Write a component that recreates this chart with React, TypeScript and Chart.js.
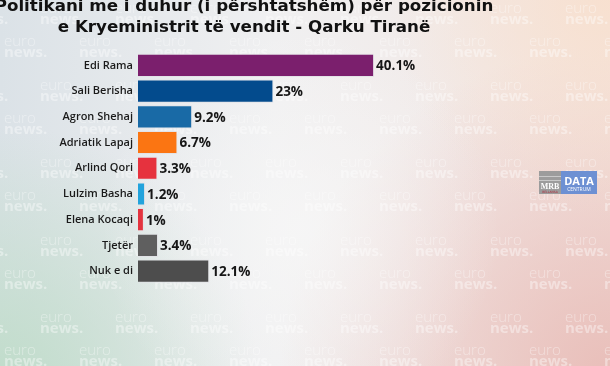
import React, { useEffect, useRef } from "react";
import { Chart, registerables } from "chart.js";

Chart.register(...registerables);

const categories = [
  "Edi Rama",
  "Sali Berisha",
  "Agron Shehaj",
  "Adriatik Lapaj",
  "Arlind Qori",
  "Lulzim Basha",
  "Elena Kocaqi",
  "Tjetër",
  "Nuk e di",
];
const values = [40.1, 23, 9.2, 6.7, 3.3, 1.2, 1, 3.4, 12.1];
const valueLabels = ["40.1%", "23%", "9.2%", "6.7%", "3.3%", "1.2%", "1%", "3.4%", "12.1%"];
const titleLines = [
  "Politikani me i duhur (i përshtatshëm) për pozicionin",
  "e Kryeministrit të vendit - Qarku Tiranë",
];
const barColors = [
  "#7b1f6d",
  "#034b8d",
  "#196aa6",
  "#fb7512",
  "#e6323e",
  "#22a3dc",
  "#e3343f",
  "#5f5f5f",
  "#4d4d4d",
];

const backgroundPlugin = {
  id: "bg",
  beforeDraw(chart: any) {
    const { ctx, width: w, height: h } = chart;
    ctx.save();
    const g = ctx.createLinearGradient(0, 0, w, 0);
    g.addColorStop(0, "#dbe2e7");
    g.addColorStop(0.45, "#f0f0f1");
    g.addColorStop(1, "#f3e5e1");
    ctx.fillStyle = g;
    ctx.fillRect(0, 0, w, h);

    const rad = (x: number, y: number, r: number, c: string, c0: string) => {
      const rg = ctx.createRadialGradient(x, y, 0, x, y, r);
      rg.addColorStop(0, c);
      rg.addColorStop(1, c0);
      ctx.fillStyle = rg;
      ctx.fillRect(0, 0, w, h);
    };
    rad(0, h + 20, 260, "rgba(190,220,200,0.95)", "rgba(190,220,200,0)");
    rad(w, h + 10, 330, "rgba(232,188,183,0.95)", "rgba(232,188,183,0)");
    rad(w, 0, 220, "rgba(248,224,206,0.9)", "rgba(248,224,206,0)");
    rad(300, 230, 200, "rgba(248,248,248,0.7)", "rgba(248,248,248,0)");

    // watermark
    ctx.fillStyle = "rgba(255,255,255,0.4)";
    ctx.textAlign = "left";
    ctx.textBaseline = "top";
    for (let k = -1; k < 6; k++) {
      for (let s = 0; s < 2; s++) {
        const y = 3 + 77.3 * k + (s ? 33 : 0);
        const x0 = s ? 4 : 40;
        for (let x = x0 - 75; x < w + 10; x += 75) {
          ctx.font = "300 15px 'Open Sans'";
          ctx.fillText("euro", x, y - 2);
          ctx.font = "bold 15px 'Open Sans'";
          ctx.fillText("news.", x, y + 9);
        }
      }
    }

    // logo
    ctx.fillStyle = "#9c9c9c";
    ctx.fillRect(539, 171, 22, 23);
    ctx.fillStyle = "#c9c9c9";
    ctx.fillRect(539, 176, 22, 1);
    ctx.fillRect(539, 180, 22, 1);
    ctx.fillStyle = "#ffffff";
    ctx.font = "bold 8px 'Liberation Serif'";
    ctx.textAlign = "center";
    ctx.textBaseline = "alphabetic";
    ctx.fillText("MRB", 550, 189);
    ctx.fillStyle = "#b02a3a";
    ctx.font = "3px 'DejaVu Sans'";
    ctx.fillText("BELLANSA", 550, 193);
    ctx.fillStyle = "#6d90d3";
    ctx.fillRect(561, 171, 36, 23);
    ctx.fillStyle = "#ffffff";
    ctx.font = "bold 11px 'Open Sans'";
    ctx.fillText("DATA", 579, 185);
    ctx.font = "5px 'Open Sans'";
    ctx.fillText("CENTRUM", 579, 191);
    ctx.restore();
  },
};

const labelPlugin = {
  id: "vals",
  afterDatasetsDraw(chart: any) {
    const { ctx } = chart;
    const meta = chart.getDatasetMeta(0);
    ctx.save();
    ctx.fillStyle = "#161616";
    ctx.font = "bold 13.5px 'Open Sans'";
    ctx.textAlign = "left";
    ctx.textBaseline = "middle";
    meta.data.forEach((bar: any, i: number) => {
      ctx.fillText(valueLabels[i], bar.x + 2, bar.y + 1);
    });
    ctx.restore();
  },
  afterDraw(chart: any) {
    const { ctx } = chart;
    ctx.save();
    ctx.fillStyle = "#111111";
    ctx.font = "bold 16.7px 'DejaVu Sans'";
    ctx.textAlign = "center";
    ctx.textBaseline = "alphabetic";
    ctx.fillText(titleLines[0], 244, 11);
    ctx.fillText(titleLines[1], 244, 32);
    ctx.restore();
  },
};

export default function App() {
  const ref = useRef<HTMLCanvasElement>(null);
  useEffect(() => {
    document.body.style.margin = "0";
    const chart = new Chart(ref.current!, {
      type: "bar",
      data: {
        labels: categories,
        datasets: [
          {
            data: values,
            backgroundColor: barColors,
            borderColor: "rgba(225,225,230,0.9)",
            borderWidth: 1,
            barPercentage: 0.9,
            categoryPercentage: 1,
          },
        ],
      },
      options: {
        indexAxis: "y",
        animation: false,
        responsive: true,
        maintainAspectRatio: false,
        layout: { padding: { top: 52.5, bottom: 82, left: 0, right: 1 } },
        plugins: { legend: { display: false }, tooltip: { enabled: false }, title: { display: false } },
        scales: {
          x: { display: false, min: 0, max: 80 },
          y: {
            grid: { display: false, drawTicks: false },
            border: { display: false },
            ticks: {
              color: "#1a1a1a",
              padding: 5,
              font: { family: "'Open Sans'", size: 11, weight: 600 },
            },
            afterFit(scale: any) {
              scale.width = 138;
            },
          },
        },
      },
      plugins: [backgroundPlugin, labelPlugin],
    } as any);
    return () => chart.destroy();
  }, []);
  return (
    <div style={{ width: 610, height: 366, position: "relative" }}>
      <canvas ref={ref} />
    </div>
  );
}
